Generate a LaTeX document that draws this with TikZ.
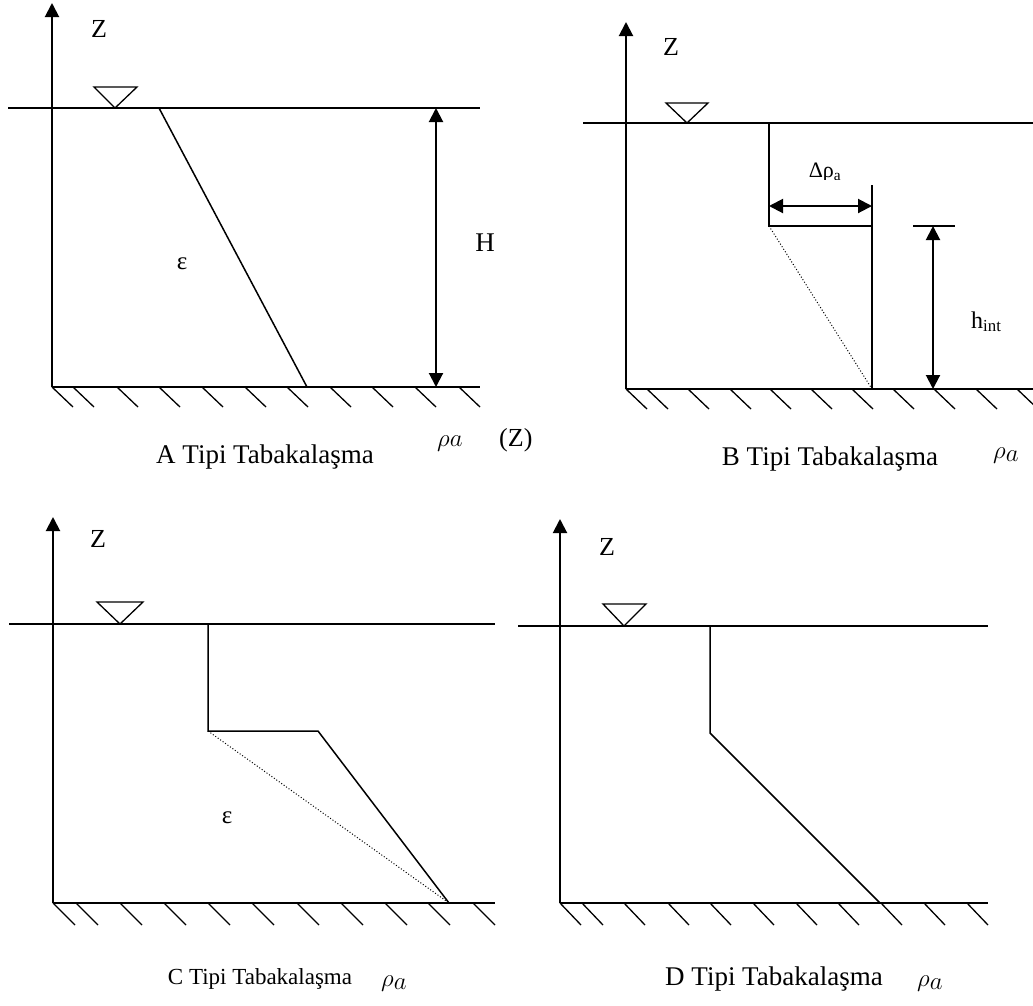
\documentclass[tikz,border=0pt]{standalone}
\usepackage{fontspec}
\setmainfont{Liberation Serif}
\usetikzlibrary{arrows.meta}
\begin{document}
\begin{tikzpicture}[x=1pt,y=-1pt,
  axis/.style={line width=2pt,-{Triangle[length=14pt,width=14pt]}},
  ground/.style={line width=2pt},
  surf/.style={line width=1.3pt},
  prof/.style={line width=1.5pt},
  hatch/.style={line width=1.3pt},
  dimarrow/.style={line width=2pt,{Triangle[length=14pt,width=14pt]}-{Triangle[length=14pt,width=14pt]}},
  dots/.style={line width=1pt,dotted},
  wl/.style={line width=1.3pt,line join=miter},
  zlbl/.style={inner sep=0pt,font=\fontsize{26}{28}\selectfont},
  lbl/.style={inner sep=0pt,font=\fontsize{27}{29}\selectfont},
  eps/.style={inner sep=0pt,font=\fontsize{25}{27}\selectfont},
  captext/.style={inner sep=0pt,font=\fontsize{27}{30}\selectfont},
  captextsmall/.style={inner sep=0pt,font=\fontsize{23}{26}\selectfont},
  rholbl/.style={inner sep=0pt,font=\fontsize{36}{38}\selectfont}
]
\useasboundingbox (0,0) rectangle (1033,1005);

% ================= Panel A =================
\coordinate (A0) at (52,387);
\coordinate (Atop) at (52,3);
\coordinate (As1) at (8,108);
\coordinate (As2) at (480,108);
\coordinate (Ag2) at (480,387);
\coordinate (Ap1) at (159,108);
\coordinate (Ap2) at (307,387);
\coordinate (AH1) at (436,108);
\coordinate (AH2) at (436,387);
\draw[surf] (As1) -- (As2);
\draw[axis] (A0) -- (Atop);
\draw[ground] (A0) -- (Ag2);
\foreach \x in {52,73,117,159,202,245,287,330,372,415,459}
  \draw[hatch] (\x,387) -- ++(21,20);
\draw[wl] (94,87) -- (137,87) -- (115,108) -- cycle;
\draw[prof] (Ap1) -- (Ap2);
\draw[dimarrow] (AH1) -- (AH2);
\node[zlbl] (AZ) at (99,29) {Z};
\node[lbl] (AH) at (485,243) {H};
\node[eps] (Aeps) at (182,264) {ε};
\node[captext] (Acap) at (265,457) {A Tipi Tabakalaşma};
\node[rholbl,anchor=base west] (Arho) at (437,446) {$\rho a$};
\node[zlbl,anchor=base west] (AZZ) at (499,446) {(Z)};

% ================= Panel B =================
\coordinate (B0) at (626,389);
\coordinate (Btop) at (626,22);
\coordinate (Bs1) at (583,123);
\coordinate (Bs2) at (1033,123);
\coordinate (Bg2) at (1033,389);
\coordinate (Bp1) at (769,123);
\coordinate (Bp2) at (769,226);
\coordinate (Bp3) at (872,226);
\coordinate (Bv1) at (872,185);
\coordinate (Bv2) at (872,389);
\coordinate (Bd1) at (769,206);
\coordinate (Bd2) at (872,206);
\coordinate (Bt1) at (913,226);
\coordinate (Bt2) at (955,226);
\coordinate (Bh1) at (933,226);
\coordinate (Bh2) at (933,389);
\draw[surf] (Bs1) -- (Bs2);
\draw[axis] (B0) -- (Btop);
\draw[ground] (B0) -- (Bg2);
\foreach \x in {626,647,688,730,770,811,852,893,934,976,1017}
  \draw[hatch] (\x,389) -- ++(21,20);
\draw[wl] (666,103) -- (708,103) -- (687,123) -- cycle;
\draw[prof] (Bp1) -- (Bp2) -- (Bp3);
\draw[prof] (Bv1) -- (Bv2);
\draw[dots] (Bp2) -- (Bv2);
\draw[dimarrow] (Bd1) -- (Bd2);
\draw[prof] (Bt1) -- (Bt2);
\draw[dimarrow] (Bh1) -- (Bh2);
\node[zlbl] (BZ) at (671,47) {Z};
\begin{scope}
  \clip (780,145) rectangle (870,179);
  \node[inner sep=0pt,font=\fontsize{22}{24}\selectfont,anchor=base] (Bdr) at (825,177) {Δρ\textsubscript{a}};
\end{scope}
\node[inner sep=0pt,font=\fontsize{24}{26}\selectfont,anchor=base west] (Bhint) at (971,328) {h\textsubscript{int}};
\node[captext] (Bcap) at (830,459) {B Tipi Tabakalaşma};
\node[rholbl,anchor=base west] (Brho) at (993,458) {$\rho_a$};

% ================= Panel C =================
\coordinate (C0) at (53,903);
\coordinate (Ctop) at (53,517);
\coordinate (Cs1) at (9,624);
\coordinate (Cs2) at (495,624);
\coordinate (Cg2) at (495,903);
\coordinate (Cp1) at (208,624);
\coordinate (Cp2) at (208,731);
\coordinate (Cp3) at (318,731);
\coordinate (Cp4) at (449,903);
\draw[surf] (Cs1) -- (Cs2);
\draw[axis] (C0) -- (Ctop);
\draw[ground] (C0) -- (Cg2);
\foreach \x in {53,76,120,164,208,252,297,341,385,428,473}
  \draw[hatch] (\x,903) -- ++(22,22);
\draw[wl] (97,602) -- (143,602) -- (120,624) -- cycle;
\draw[prof] (Cp1) -- (Cp2) -- (Cp3) -- (Cp4);
\draw[dots] (Cp2) -- (Cp4);
\node[zlbl] (CZ) at (98,539) {Z};
\node[eps] (Ceps) at (227,818) {ε};
\node[captextsmall] (Ccap) at (260,979) {C Tipi Tabakalaşma};
\node[rholbl,anchor=base west] (Crho) at (381,986) {$\rho_a$};

% ================= Panel D =================
\coordinate (D0) at (560,903);
\coordinate (Dtop) at (560,519);
\coordinate (Ds1) at (518,626);
\coordinate (Ds2) at (988,626);
\coordinate (Dg2) at (988,903);
\coordinate (Dp1) at (710,626);
\coordinate (Dp2) at (710,733);
\coordinate (Dp3) at (880,903);
\draw[surf] (Ds1) -- (Ds2);
\draw[axis] (D0) -- (Dtop);
\draw[ground] (D0) -- (Dg2);
\foreach \x in {560,582,624,668,710,753,796,838,881,924,967}
  \draw[hatch] (\x,903) -- ++(21,22);
\draw[wl] (603,604) -- (646,604) -- (624,626) -- cycle;
\draw[prof] (Dp1) -- (Dp2) -- (Dp3);
\node[zlbl] (DZ) at (607,547) {Z};
\node[captext] (Dcap) at (774,979) {D Tipi Tabakalaşma};
\node[rholbl,anchor=base west] (Drho) at (917,986) {$\rho_a$};
\end{tikzpicture}
\end{document}
